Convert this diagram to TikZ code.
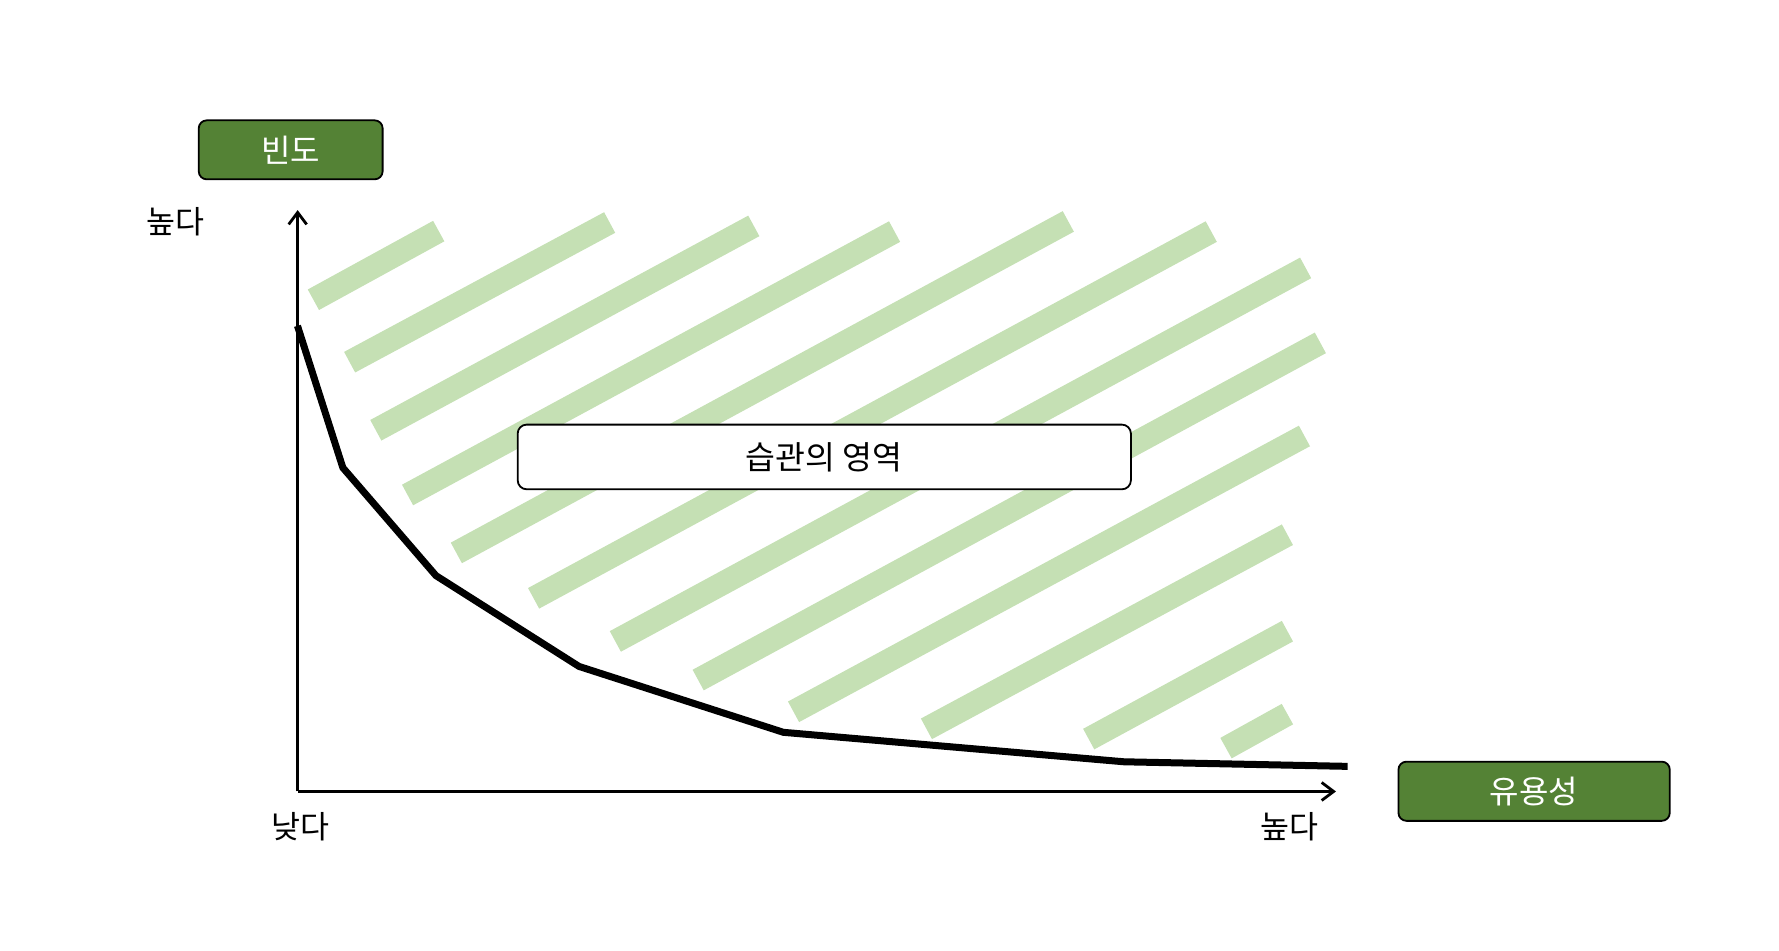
\documentclass[tikz,border=0pt]{standalone}
\usepackage{fontspec}
\setmainfont{Noto Sans CJK KR}
\usetikzlibrary{arrows.meta}
\definecolor{boxgreen}{HTML}{548235}
\definecolor{stripegreen}{HTML}{C5E0B4}
\tikzset{
  stripebar/.style={draw=stripegreen, line width=23.4pt, line cap=butt},
  tagbox/.style={draw=black, line width=1.8pt, fill=boxgreen, rounded corners=8pt,
    text=white, font=\fontsize{32}{38}\selectfont, inner sep=0pt},
  areabox/.style={draw=black, line width=1.8pt, fill=white, rounded corners=9pt,
    text=black, font=\fontsize{32.5}{38}\selectfont, inner sep=0pt},
  axislabel/.style={text=black, font=\fontsize{31.5}{38}\selectfont, inner sep=0pt},
  axisline/.style={draw=black, line width=2.8pt, -{Straight Barb[length=12pt,width=18pt,line width=2.8pt]}},
  curveline/.style={draw=black, line width=7pt, line join=miter, line cap=butt}
}
\begin{document}
\begin{tikzpicture}[x=0.9955pt,y=-0.9955pt]
\useasboundingbox (0,0) rectangle (1787.0,954.3);
% stripes
\draw[stripebar] (314.8,301.1) -- (440.7,232.1);
\draw[stripebar] (351.2,363.8) -- (612.4,223.5);
\draw[stripebar] (377.5,432.2) -- (757.2,226.9);
\draw[stripebar] (409.4,497.2) -- (898.6,232.6);
\draw[stripebar] (458.4,555.4) -- (1073.1,222.4);
\draw[stripebar] (536.0,601.0) -- (1216.7,232.6);
\draw[stripebar] (618.1,644.3) -- (1311.5,269.1);
\draw[stripebar] (701.3,683.1) -- (1326.3,344.4);
\draw[stripebar] (797.1,715.0) -- (1310.3,437.9);
\draw[stripebar] (930.6,732.1) -- (1293.2,537.1);
\draw[stripebar] (1093.6,742.4) -- (1293.2,634.0);
\draw[stripebar] (1231.5,751.5) -- (1293.2,717.3);
% axes
\coordinate (origin) at (299,795);
\coordinate (ytip) at (299,211);
\coordinate (xtip) at (1342,795);
\draw[axisline] (origin) -- (ytip);
\draw[axisline] (origin) -- (xtip);
% curve
\coordinate (c1) at (298.8,327.3);
\coordinate (c2) at (344.4,469.8);
\coordinate (c3) at (437.9,578.2);
\coordinate (c4) at (581.6,669.4);
\coordinate (c5) at (786.9,735.6);
\coordinate (c6) at (1129.0,765.2);
\coordinate (c7) at (1353.7,769.8);
\draw[curveline] (c1) -- (c2) -- (c3) -- (c4) -- (c5) -- (c6) -- (c7);
% boxes
\node[tagbox, minimum width=183.9pt, minimum height=59.0pt] (freq) at (292,150.5) {빈도};
\node[tagbox, minimum width=271.3pt, minimum height=59.2pt] (util) at (1541,794.8) {유용성};
\node[areabox, minimum width=613.2pt, minimum height=64.7pt] (habit) at (828,459) {습관의 영역};
% labels
\node[axislabel] (yhigh) at (176.2,223) {높다};
\node[axislabel] (xlow) at (302.2,830.2) {낮다};
\node[axislabel] (xhigh) at (1295.5,830.2) {높다};
\end{tikzpicture}
\end{document}
